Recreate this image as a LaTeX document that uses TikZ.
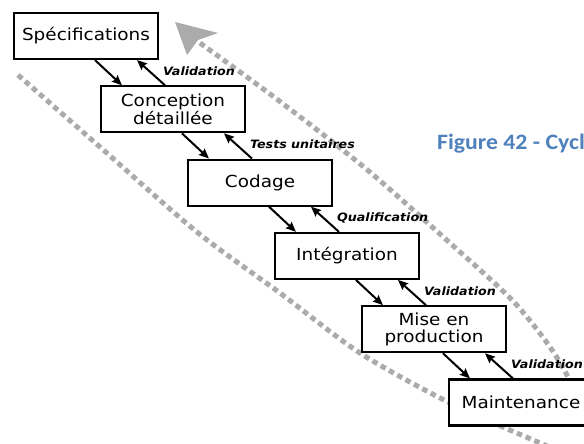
\documentclass[tikz,border=0pt]{standalone}
\usepackage{fontspec}
\usetikzlibrary{arrows.meta,calc}
\newfontfamily\boxfont[FakeStretch=1.11]{DejaVu Sans}
\newfontfamily\labfont[FakeStretch=1.1]{DejaVu Sans}
\newfontfamily\capfont[FakeStretch=1.08]{Carlito}
\definecolor{capblue}{HTML}{4F81BD}
\definecolor{bandgray}{HTML}{ABABAB}
\begin{document}
\begin{tikzpicture}[x=1pt,y=-1pt,
  stage/.style={draw, line width=2.1pt, fill=white, minimum width=144pt, minimum height=46pt,
    inner sep=0pt, align=center, font=\boxfont\fontsize{16.6}{17.5}\selectfont},
  flow/.style={line width=2pt, -{Stealth[length=10pt,width=8.5pt,inset=1.5pt]}},
  lab/.style={anchor=base west, inner sep=0pt, font=\labfont\bfseries\itshape\fontsize{11.5}{13}\selectfont},
  band/.style={draw=bandgray, line width=5pt, dash pattern=on 5.5pt off 4pt}]
\useasboundingbox (0,0) rectangle (584,444);
\clip (0,0) rectangle (584,444);
\fill[white] (0,0) rectangle (584,444);
% gray band
\draw[band] plot[smooth] coordinates {(200,43) (278,100) (365,168) (450,243) (512,300) (550,347) (572,385) (585,420) (595,460)};
\draw[band] plot[smooth] coordinates {(18,75) (100,147) (197,232) (280,293) (360,353) (450,403) (540,443) (600,468)};
\fill[bandgray] (175,22) -- (218,33) -- (198,40) -- (187,55) -- cycle;
% stages
\node[stage] (s1) at (86,36) {Spécifications};
\node[stage] (s2) at (173,109.3) {Conception\\détaillée};
\node[stage] (s3) at (260,182.6) {Codage};
\node[stage] (s4) at (347,255.9) {Intégration};
\node[stage] (s5) at (434,329.2) {Mise en\\production};
\node[stage] (s6) at (521,402.5) {Maintenance};
% arrows
\foreach \a/\b/\t in {s1/s2/Validation, s2/s3/Tests unitaires, s3/s4/Qualification, s4/s5/Validation, s5/s6/Validation}{
  \draw[flow] ($(\a.south west)+(82,0)$) -- ($(\b.north west)+(22,0)$);
  \draw[flow] ($(\b.north west)+(65,0)$) -- ($(\a.south west)+(124,0)$);
  \node[lab] (l\b) at ($(\b.north west)+(63,-10)$) {\t};
}
% caption
\node[anchor=base west, inner sep=0pt, text=capblue, font=\capfont\bfseries\fontsize{22}{26}\selectfont] (cap) at (437,149) {Figure 42 - Cycl};
\end{tikzpicture}
\end{document}
